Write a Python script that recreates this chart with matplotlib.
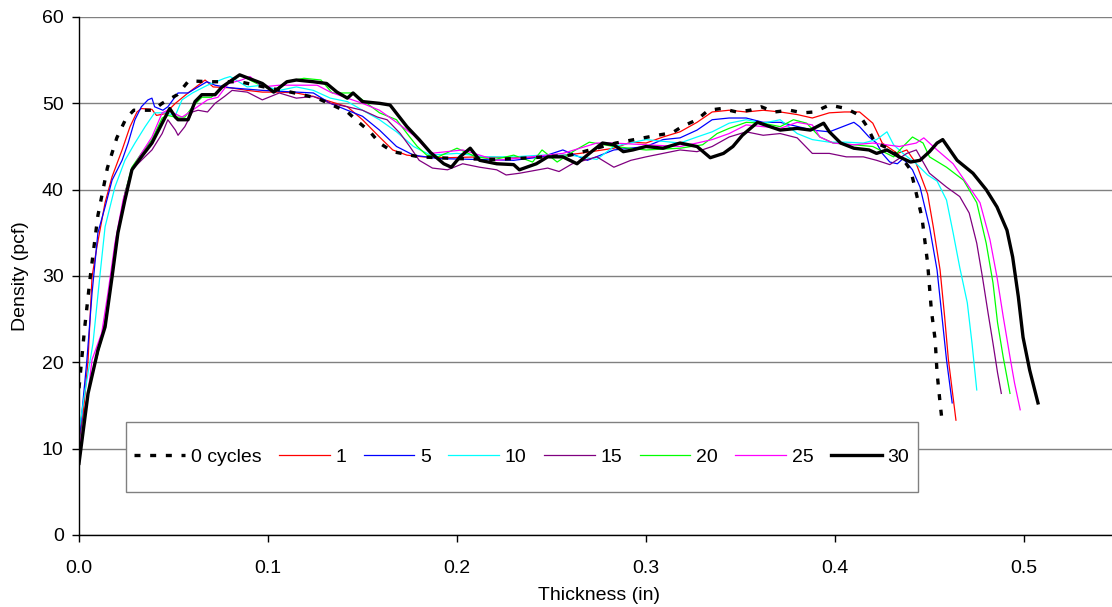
import numpy as np
import matplotlib
matplotlib.use("Agg")
import matplotlib.pyplot as plt
from matplotlib.patches import Rectangle

plt.rcParams["font.family"] = ["Liberation Sans", "DejaVu Sans"]

# данные: толщина (in) и плотность (pcf)
x0 = [0, 0.003, 0.006, 0.01, 0.015, 0.02, 0.025, 0.029, 0.039, 0.044, 0.052, 0.058, 0.07, 0.085,
      0.1, 0.112, 0.126, 0.142, 0.148, 0.154, 0.159, 0.166, 0.18, 0.2, 0.22, 0.24, 0.26, 0.284,
      0.306, 0.314, 0.319, 0.327, 0.333, 0.34, 0.348, 0.355, 0.361, 0.368, 0.376, 0.383, 0.389,
      0.397, 0.406, 0.413, 0.417, 0.421, 0.428, 0.436, 0.44, 0.442, 0.446, 0.449, 0.451, 0.453,
      0.454, 0.4556, 0.4566]
y0 = [17, 24, 30, 37, 42.5, 46, 48.3, 49.2, 49.2, 50, 51, 52.6, 52.5, 52.5,
      51.8, 51.3, 50.6, 49, 47.8, 46.7, 45.4, 44.4, 43.8, 43.6, 43.5, 43.7, 44, 45.4,
      46.3, 46.6, 47.3, 48.1, 49.2, 49.4, 49, 49.2, 49.6, 49, 49.2, 48.9, 49,
      49.8, 49.4, 48.6, 47.3, 45.5, 44.8, 43.5, 42.3, 40.5, 36.8, 31.5, 26, 22.6,
      18.8, 15.3, 13.3]

x1 = [0, 0.0016, 0.0048, 0.0069, 0.0095, 0.0138, 0.0175, 0.0228, 0.027, 0.0307, 0.033, 0.0386,
      0.041, 0.0455, 0.051, 0.0577, 0.0667, 0.071, 0.08, 0.089, 0.097, 0.106, 0.115, 0.124,
      0.133, 0.142, 0.15, 0.159, 0.166, 0.1735, 0.182, 0.195, 0.212, 0.23, 0.248, 0.265, 0.283,
      0.292, 0.3, 0.309, 0.318, 0.327, 0.335, 0.344, 0.353, 0.362, 0.371, 0.38, 0.388, 0.397,
      0.405, 0.413, 0.42, 0.425, 0.433, 0.438, 0.443, 0.449, 0.452, 0.4556, 0.458, 0.46, 0.462,
      0.464]
y1 = [10, 12.5, 20.3, 29.9, 33.4, 38.5, 41.5, 44.6, 47.3, 49, 49.4, 49.3,
      48.6, 48.8, 50, 51.2, 52.7, 51.9, 51.8, 51.5, 51.3, 51.3, 51.2, 50.8,
      50.2, 49.6, 48.1, 46.1, 44.6, 44, 43.8, 43.7, 43.8, 43.7, 43.8, 44.2, 44.8,
      45.5, 45.4, 46.1, 46.7, 47.8, 49, 49.2, 49, 49.2, 49, 48.7, 48.3, 48.9,
      49, 49, 47.7, 45.4, 44.2, 44.6, 43, 39.5, 35.7, 30.7, 25.3, 20.3, 16.8,
      13.3]

x5 = [0, 0.0042, 0.0069, 0.01, 0.0138, 0.0175, 0.0228, 0.026, 0.0296, 0.033, 0.0365, 0.0386,
      0.04, 0.0444, 0.047, 0.0524, 0.0577, 0.063, 0.0677, 0.072, 0.08, 0.097, 0.115, 0.124,
      0.133, 0.142, 0.15, 0.159, 0.168, 0.177, 0.19, 0.21, 0.23, 0.245, 0.256, 0.269, 0.283,
      0.3, 0.309, 0.318, 0.327, 0.335, 0.344, 0.353, 0.362, 0.371, 0.388, 0.397, 0.41, 0.413,
      0.418, 0.422, 0.425, 0.429, 0.433, 0.436, 0.441, 0.445, 0.45, 0.454, 0.4566, 0.459, 0.462]
y5 = [10.6, 20.3, 28, 35, 38, 41.1, 43.4, 45.4, 48.1, 49.6, 50.4, 50.6,
      49.6, 49.2, 49.6, 51.2, 51.2, 51.9, 52.5, 52.1, 51.8, 51.5, 51.3, 51.2,
      50, 49.2, 48.5, 46.9, 45, 44, 43.6, 43.5, 43.4, 43.8, 44.6, 43.4, 44.6,
      45, 45.8, 46, 46.9, 48.1, 48.3, 48.3, 47.8, 47.8, 46.9, 46.7, 47.8, 47.3,
      46.1, 45.4, 44.2, 43.2, 43, 43.6, 42.3, 40.3, 35.7, 30.7, 25.3, 20.3, 15.3]

x10 = [0, 0.003, 0.0074, 0.011, 0.0138, 0.019, 0.0243, 0.0296, 0.035, 0.04, 0.0455, 0.051,
       0.0545, 0.06, 0.068, 0.077, 0.08, 0.089, 0.097, 0.106, 0.115, 0.124, 0.133, 0.142, 0.15,
       0.159, 0.168, 0.177, 0.186, 0.2, 0.215, 0.23, 0.245, 0.26, 0.274, 0.283, 0.3, 0.318,
       0.327, 0.335, 0.344, 0.353, 0.362, 0.371, 0.38, 0.388, 0.397, 0.406, 0.415, 0.422,
       0.4275, 0.431, 0.436, 0.443, 0.449, 0.454, 0.459, 0.4625, 0.466, 0.47, 0.4725, 0.475]
y10 = [12, 16.4, 22.2, 29.9, 35.7, 40.3, 43.4, 45.4, 47.3, 48.9, 48.9, 48.6,
       50.4, 51.2, 52.1, 52.9, 53.1, 51.9, 52.1, 51.5, 51.9, 51.5, 50.6, 50.2, 49.2,
       48.1, 46.7, 45, 44, 44.2, 43.8, 43.8, 44, 44, 43.5, 45, 45.8, 45.4,
       46.1, 46.7, 47.7, 48.1, 47.7, 48.1, 46.5, 45.8, 45.5, 45.5, 45.4, 45.8,
       46.7, 45.2, 44.2, 43, 41.7, 41, 38.8, 35, 31, 26.9, 22.2, 16.8]

x15 = [0, 0.0016, 0.0058, 0.01, 0.0138, 0.0175, 0.0206, 0.0243, 0.028, 0.033, 0.0386, 0.044,
       0.047, 0.051, 0.0524, 0.056, 0.06, 0.063, 0.068, 0.072, 0.077, 0.081, 0.089, 0.097,
       0.106, 0.115, 0.124, 0.133, 0.142, 0.15, 0.158, 0.163, 0.17, 0.175, 0.18, 0.187, 0.195,
       0.203, 0.212, 0.221, 0.226, 0.233, 0.248, 0.254, 0.261, 0.274, 0.283, 0.292, 0.3, 0.318,
       0.327, 0.335, 0.344, 0.353, 0.362, 0.371, 0.38, 0.388, 0.397, 0.406, 0.415, 0.422,
       0.429, 0.438, 0.443, 0.45, 0.459, 0.466, 0.471, 0.475, 0.478, 0.481, 0.4836, 0.486, 0.488]
y15 = [10, 13, 17.5, 21, 24.9, 29.9, 35, 39.6, 42.3, 43.4, 44.6, 46.5,
       48.1, 46.9, 46.3, 47.3, 49, 49.2, 49, 50, 50.8, 51.5, 51.3, 50.4,
       51.2, 50.6, 50.8, 50, 49.6, 49.2, 48.4, 48.1, 46.5, 45, 43.4, 42.5, 42.3,
       43, 42.6, 42.3, 41.7, 41.9, 42.5, 42.1, 43, 43.8, 42.6, 43.4, 43.8, 44.6,
       44.4, 45, 46.1, 46.7, 46.3, 46.5, 46, 44.2, 44.2, 43.8, 43.8, 43.4,
       42.9, 44.2, 44.6, 41.9, 40.3, 39.2, 37.3, 33.8, 29.9, 25.7, 22.2, 18.8, 16.4]

x20 = [0, 0.004, 0.0085, 0.0138, 0.0175, 0.0206, 0.0243, 0.028, 0.033, 0.0386, 0.044, 0.047,
       0.051, 0.056, 0.06, 0.065, 0.07, 0.0757, 0.081, 0.085, 0.094, 0.103, 0.11, 0.119, 0.128,
       0.134, 0.145, 0.15, 0.159, 0.168, 0.175, 0.179, 0.184, 0.19, 0.2, 0.21, 0.22, 0.23, 0.24,
       0.245, 0.253, 0.262, 0.27, 0.283, 0.3, 0.318, 0.33, 0.3376, 0.344, 0.353, 0.362, 0.371,
       0.378, 0.385, 0.392, 0.399, 0.41, 0.42, 0.431, 0.436, 0.441, 0.4466, 0.45, 0.459, 0.468,
       0.475, 0.48, 0.4836, 0.486, 0.489, 0.4926]
y20 = [10, 15.5, 19.9, 24.1, 29.9, 35, 39.6, 42.6, 44.2, 45.8, 48.3, 48.6,
       48.4, 48.4, 49.6, 50.7, 50.7, 51.9, 52.7, 53.3, 52.3, 51.5, 52.5, 52.9, 52.7,
       51.2, 51.2, 50.4, 48.9, 48.1, 46.1, 45, 44, 43.8, 44.8, 43.8, 43.5, 44, 43.2,
       44.6, 43.2, 44.5, 45.5, 45, 44.6, 44.8, 45.2, 46.5, 47.1, 47.8, 47.7, 47.3,
       48.1, 47.7, 46.1, 45.4, 45.2, 45, 43.8, 45, 46.1, 45.4, 43.8, 42.6, 41.1,
       38.5, 33.8, 29.2, 24.6, 20.6, 16.4]

x25 = [0, 0.004, 0.0069, 0.012, 0.0153, 0.019, 0.0233, 0.028, 0.033, 0.0386, 0.044, 0.047,
       0.0545, 0.06, 0.068, 0.0735, 0.079, 0.086, 0.0905, 0.097, 0.106, 0.115, 0.126, 0.133,
       0.142, 0.15, 0.159, 0.168, 0.177, 0.186, 0.203, 0.221, 0.239, 0.256, 0.274, 0.283, 0.3,
       0.318, 0.327, 0.335, 0.344, 0.353, 0.362, 0.371, 0.38, 0.388, 0.392, 0.399, 0.41, 0.42,
       0.434, 0.443, 0.447, 0.454, 0.4625, 0.471, 0.4767, 0.482, 0.4857, 0.489, 0.4926, 0.495,
       0.498]
y25 = [10, 15, 20.3, 23.4, 28, 33.8, 38.8, 42.3, 44.2, 46.1, 48.9, 49.2,
       48.4, 49.2, 50.4, 50.7, 52.3, 52.7, 53.1, 51.9, 52.1, 52.1, 52.1, 51.3,
       50.6, 50, 49.2, 47.8, 46.3, 44.2, 44.6, 43.4, 43.8, 44.2, 45.4, 45.4, 45.2,
       45, 45.4, 45.8, 46.5, 47.5, 47.3, 47.1, 47.8, 47.5, 46.1, 45.4, 45.2, 45.4,
       45, 45.4, 46, 44.6, 43, 40.3, 38.5, 34.2, 29.9, 25.3, 20.6, 17.6,
       14.5]

x30 = [0, 0.0048, 0.01, 0.0138, 0.0175, 0.0206, 0.0243, 0.028, 0.033, 0.0386, 0.044, 0.048,
       0.051, 0.0524, 0.0577, 0.0614, 0.065, 0.072, 0.0757, 0.081, 0.085, 0.091, 0.097, 0.103,
       0.11, 0.115, 0.124, 0.131, 0.1365, 0.142, 0.145, 0.15, 0.159, 0.1646, 0.1735, 0.18,
       0.186, 0.193, 0.197, 0.2016, 0.207, 0.212, 0.221, 0.23, 0.233, 0.242, 0.248, 0.256,
       0.2635, 0.27, 0.277, 0.283, 0.288, 0.293, 0.3, 0.309, 0.318, 0.327, 0.334, 0.341, 0.346,
       0.351, 0.359, 0.3656, 0.371, 0.38, 0.387, 0.394, 0.397, 0.403, 0.41, 0.418, 0.422,
       0.4275, 0.434, 0.44, 0.445, 0.45, 0.454, 0.457, 0.4646, 0.473, 0.48, 0.4857, 0.491,
       0.494, 0.497, 0.4995, 0.503, 0.5074]
y30 = [8.3, 16.4, 21.4, 24.1, 29.9, 35, 38.8, 42.3, 43.8, 45.4, 47.7, 49.4,
       48.4, 48.1, 48.1, 50.2, 51, 51, 51.9, 52.7, 53.3, 52.8, 52.3, 51.3,
       52.5, 52.7, 52.5, 52.3, 51.3, 50.6, 51.2, 50.2, 50, 49.8, 47.3, 45.8,
       44.3, 43, 42.6, 43.8, 44.8, 43.4, 43, 42.9, 42.3, 43, 43.8, 43.8,
       43, 44.2, 45.4, 45.2, 44.4, 44.6, 45, 44.8, 45.4, 45, 43.7, 44.2, 45,
       46.3, 47.8, 47.3, 46.9, 47.1, 46.9, 47.7, 46.7, 45.4, 44.8, 44.6, 44.2,
       44.6, 43.8, 43.2, 43.4, 44.4, 45.4, 45.8, 43.4, 41.9, 40, 38, 35.3,
       32.2, 27.6, 22.9, 19.1, 15.3]

labels = ["0 cycles", "1", "5", "10", "15", "20", "25", "30"]
colors = ["black", "#FF0000", "#0000FF", "#00FFFF", "#800080", "#00FF00", "#FF00FF", "black"]
xs = [x0, x1, x5, x10, x15, x20, x25, x30]
ys = [y0, y1, y5, y10, y15, y20, y25, y30]

fig = plt.figure(figsize=(11.12, 6.07), dpi=100)
ax = fig.add_axes([0.07104, 0.11862, 0.93480, 0.85338])

for i in range(len(labels)):
    if i == 0:
        ax.plot(xs[i], ys[i], color=colors[i], lw=2.4, linestyle=(0, (1.8, 2.9)),
                dash_capstyle="butt", label=labels[i], zorder=3)
    elif i == 7:
        ax.plot(xs[i], ys[i], color=colors[i], lw=2.4, label=labels[i], zorder=4)
    else:
        ax.plot(xs[i], ys[i], color=colors[i], lw=0.9, label=labels[i], zorder=2)

ax.set_xlim(0, 0.55)
ax.set_ylim(0, 60)
ax.set_xticks(np.arange(0, 0.51, 0.1))
ax.set_xticklabels(["0.0", "0.1", "0.2", "0.3", "0.4", "0.5"])
ax.set_yticks(range(0, 61, 10))

ax.grid(axis="y", color="#808080", lw=1.0, zorder=0)
ax.set_axisbelow(True)
for s in ["top", "right"]:
    ax.spines[s].set_visible(False)
for s in ["left", "bottom"]:
    ax.spines[s].set_color("black")
    ax.spines[s].set_linewidth(1.0)
ax.tick_params(direction="out", length=5, width=1, labelsize=14)
ax.tick_params(axis="x", pad=13)
ax.tick_params(axis="y", pad=6)

ax.set_xlabel("Thickness (in)", fontsize=14, labelpad=7)
ax.set_ylabel("Density (pcf)", fontsize=14, labelpad=9)

# рамка легенды отдельно
ax.add_patch(Rectangle((0.0452, 0.083), 0.7619, 0.135, transform=ax.transAxes,
                       facecolor="white", edgecolor="#808080", lw=1.0, zorder=5))
ax.legend(loc="center", bbox_to_anchor=(0.426, 0.1506), ncol=8, frameon=False,
          fontsize=14, handlelength=2.6, handletextpad=0.3, columnspacing=0.9)

plt.savefig("out.png", dpi=100)
